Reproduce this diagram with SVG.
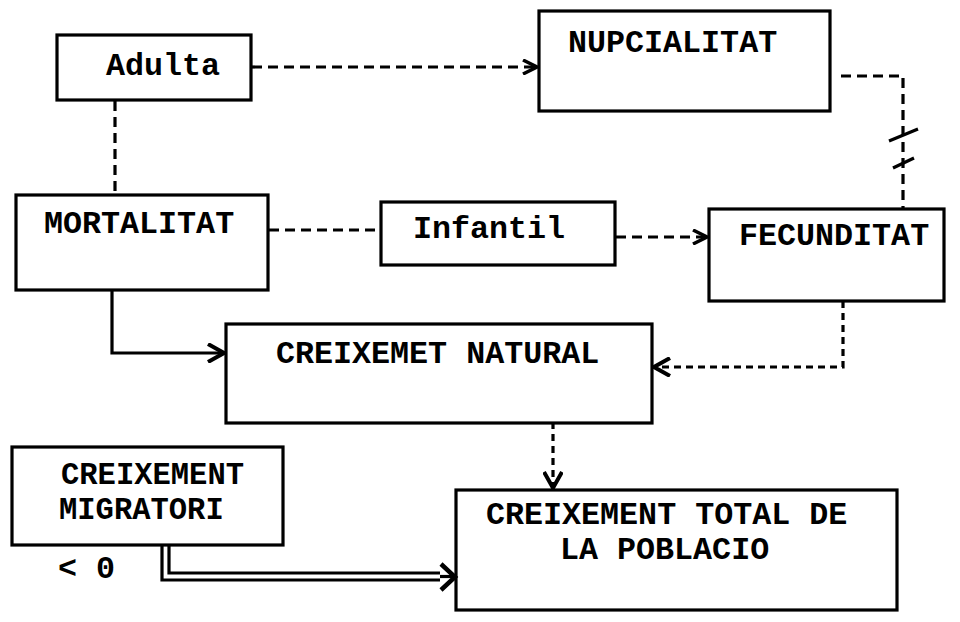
<svg xmlns="http://www.w3.org/2000/svg" width="960" height="622" viewBox="0 0 960 622">
<style>
.box{fill:none;stroke:#000;stroke-width:3.2}
.t{font-family:"Liberation Mono","Courier New",monospace;font-weight:bold;font-size:31.7px;fill:#000}
.s{font-size:30.5px}
.c{fill:none;stroke:#000;stroke-width:3.2}
.d{stroke-dasharray:10 6}
.dd{stroke-dasharray:7 5}
</style>
<defs>
<marker id="ah" viewBox="0 0 16 16" refX="15" refY="8" markerWidth="16" markerHeight="16" markerUnits="userSpaceOnUse" orient="auto">
<path d="M1,1 L15,8 L1,15" fill="none" stroke="#000" stroke-width="3.5"/>
</marker>
<marker id="ahb" viewBox="0 0 20 20" refX="18" refY="10" markerWidth="20" markerHeight="20" markerUnits="userSpaceOnUse" orient="auto">
<path d="M2,1 L18,10 L2,19" fill="none" stroke="#000" stroke-width="4"/>
</marker>
</defs>
<rect width="960" height="622" fill="#fff"/>
<g id="connectors">
<path class="c d" d="M115,101 V195"/>
<path class="c d" d="M252,67 H537" marker-end="url(#ah)"/>
<path class="c d" d="M269,230 H381"/>
<path class="c d" d="M616,237 H707" marker-end="url(#ah)"/>
<path class="c d" d="M841,76 H903 V209"/>
<path class="c" d="M889,141 L918,129 M893,168 L914,158" stroke-width="4.5"/>
<path class="c dd" d="M843,301 V367 H654" marker-end="url(#ahb)"/>
<path class="c" d="M112,291 V353 H224" marker-end="url(#ahb)"/>
<path class="c dd" d="M553,422 V488" marker-end="url(#ahb)"/>
<path class="c" d="M162,546 V580 H440" stroke-width="2.5"/>
<path class="c" d="M169,546 V573 H440" stroke-width="2.5"/>
<path class="c" d="M440,576.5 H454" stroke-width="9"/>
<path d="M441,564 L455,577 L441,590" fill="none" stroke="#000" stroke-width="4.5"/>
</g>
<g id="adulta">
<rect class="box" x="57" y="35" width="194" height="65"/>
<text class="t" x="106" y="75">Adulta</text>
</g>
<g id="nupcialitat">
<rect class="box" x="539" y="11" width="291" height="100"/>
<text class="t" x="568" y="52">NUPCIALITAT</text>
</g>
<g id="mortalitat">
<rect class="box" x="16" y="195" width="252" height="95"/>
<text class="t" x="44" y="233">MORTALITAT</text>
</g>
<g id="infantil">
<rect class="box" x="381" y="202" width="234" height="63"/>
<text class="t" x="413" y="238">Infantil</text>
</g>
<g id="fecunditat">
<rect class="box" x="709" y="209" width="235" height="92"/>
<text class="t" x="739" y="245">FECUNDITAT</text>
</g>
<g id="creixement-natural">
<rect class="box" x="226" y="324" width="426" height="99"/>
<text class="t" x="276" y="363">CREIXEMET NATURAL</text>
</g>
<g id="creixement-migratori">
<rect class="box" x="12" y="447" width="271" height="98"/>
<text class="t s" x="61" y="484">CREIXEMENT</text>
<text class="t s" x="59" y="519">MIGRATORI</text>
</g>
<text class="t" x="58" y="578">&lt; 0</text>
<g id="creixement-total">
<rect class="box" x="456" y="490" width="441" height="120"/>
<text class="t" x="486" y="524">CREIXEMENT TOTAL DE</text>
<text class="t" x="560" y="559">LA POBLACIO</text>
</g>
</svg>
